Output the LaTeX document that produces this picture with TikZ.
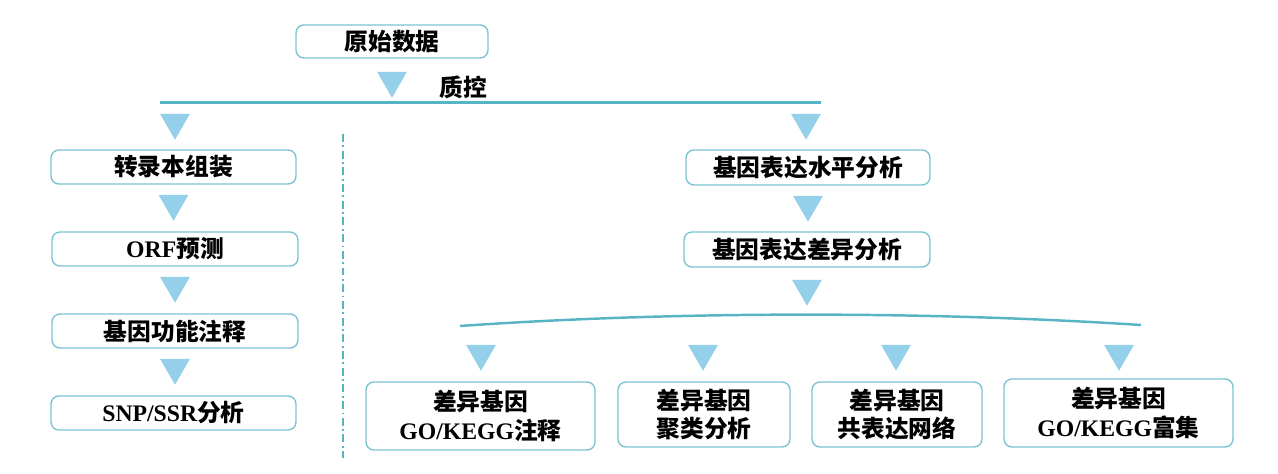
\documentclass[tikz,border=0pt]{standalone}
\usepackage{fontspec}
\setmainfont{Noto Sans CJK SC}
\newfontfamily\lat{Liberation Serif}
\usetikzlibrary{positioning, shapes.geometric}
\definecolor{myTeal}{HTML}{56B4C4}
\definecolor{myEdge}{HTML}{7DC4D3}
\definecolor{mySky}{HTML}{95D0EA}

\begin{document}
\begin{tikzpicture}[
box/.style={rectangle, draw=myEdge, line width=0.8pt, fill=white, rounded corners=0.16cm, align=center, inner sep=0pt, font=\fontsize{13.5}{16}\selectfont\bfseries},
tri/.style={regular polygon, regular polygon sides=3, shape border rotate=180, fill=mySky, inner sep=0pt, minimum size=0.69cm},
trunk/.style={myTeal, line width=1.7pt}
]
\useasboundingbox (0,0) rectangle (25.56,-9.48);

\node[box, minimum width=3.84cm, minimum height=0.66cm] (raw) at (7.84,-0.83) {原始数据};
\node[tri] (t0) at (7.84,-1.61) {};
\node[font=\fontsize{13.5}{16}\selectfont\bfseries] (qc) at (9.26,-1.74) {质控};

\coordinate (trunkL) at (3.2,-2.06);
\coordinate (trunkR) at (16.42,-2.06);
\draw[trunk] (trunkL) -- (trunkR);

% left column
\node[tri] (tl) at (3.5,-2.45) {};
\node[box, minimum width=4.9cm, minimum height=0.68cm] (asm) at (3.47,-3.34) {转录本组装};
\node[tri] (tl1) at (3.47,-4.07) {};
\node[box, minimum width=4.92cm, minimum height=0.68cm] (orf) at (3.5,-4.98) {{\lat ORF}预测};
\node[tri] (tl2) at (3.5,-5.71) {};
\node[box, minimum width=4.92cm, minimum height=0.68cm] (func) at (3.5,-6.62) {基因功能注释};
\node[tri] (tl3) at (3.5,-7.35) {};
\node[box, minimum width=4.9cm, minimum height=0.68cm] (snp) at (3.47,-8.26) {{\lat SNP/SSR}分析};

\coordinate (sepT) at (6.86,-2.68);
\coordinate (sepB) at (6.86,-9.16);
\draw[myTeal, line width=1.1pt, dash pattern=on 4.5pt off 2pt on 1pt off 2pt] (sepT) -- (sepB);

% right column
\node[tri] (tr) at (16.12,-2.45) {};
\node[box, minimum width=4.88cm, minimum height=0.7cm] (level) at (16.16,-3.35) {基因表达水平分析};
\node[tri] (tr1) at (16.16,-4.09) {};
\node[box, minimum width=4.92cm, minimum height=0.7cm] (diff) at (16.14,-4.99) {基因表达差异分析};
\node[tri] (tr2) at (16.14,-5.77) {};

\coordinate (branchL) at (9.2,-6.52);
\coordinate (branchR) at (22.82,-6.5);
\draw[trunk, line width=1.4pt] (branchL) .. controls (13.5,-6.22) and (18.5,-6.22) .. (branchR);

\node[tri] (tb1) at (9.62,-7.07) {};
\node[tri] (tb2) at (14.06,-7.07) {};
\node[tri] (tb3) at (17.92,-7.07) {};
\node[tri] (tb4) at (22.38,-7.07) {};

\node[box, minimum width=4.58cm, minimum height=1.36cm] (goann) at (9.61,-8.32) {差异基因\\{\lat GO/KEGG}注释};
\node[box, minimum width=3.44cm, minimum height=1.3cm] (clus) at (14.08,-8.29) {差异基因\\聚类分析};
\node[box, minimum width=3.4cm, minimum height=1.3cm] (coex) at (17.94,-8.29) {差异基因\\共表达网络};
\node[box, minimum width=4.58cm, minimum height=1.36cm] (goenr) at (22.37,-8.26) {差异基因\\{\lat GO/KEGG}富集};
\end{tikzpicture}
\end{document}
